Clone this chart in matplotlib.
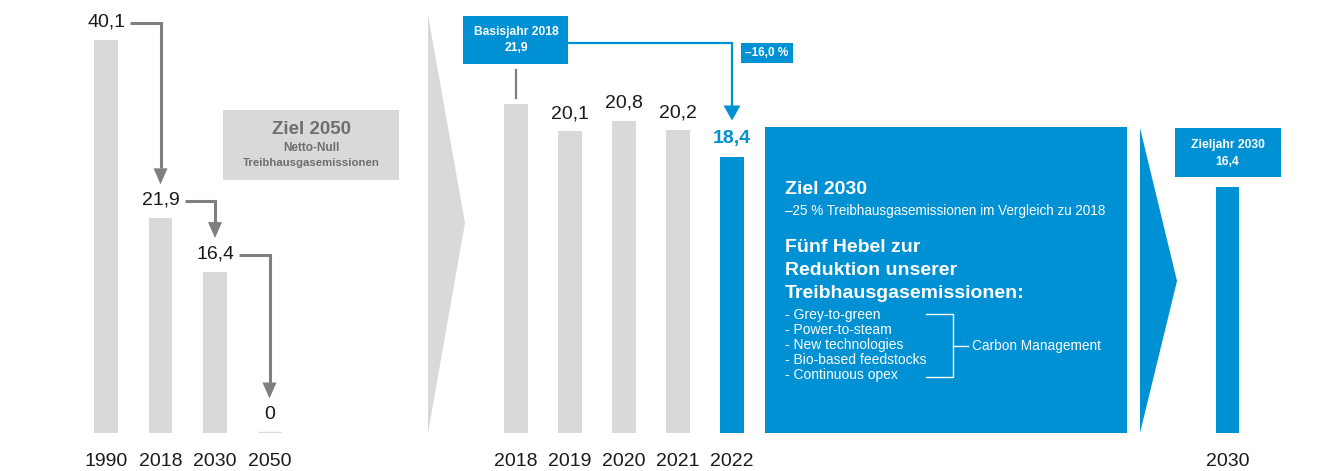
import numpy as np
import matplotlib
matplotlib.use("Agg")
import matplotlib.pyplot as plt
from matplotlib.patches import Rectangle, Polygon

# ---------------- DATA ---------------- #
hist_years = ["1990", "2018", "2030", "2050"]
hist_values = [40.1, 21.9, 16.4, 0.0]

recent_years = ["2018", "2019", "2020", "2021", "2022"]
recent_values = [21.9, 20.1, 20.8, 20.2, 18.4]

target_years = ["2030"]
target_values = [16.4]

change_vs_base = -16.0
levers = ["Grey-to-green", "Power-to-steam", "New technologies",
          "Bio-based feedstocks", "Continuous opex"]

# ---------------- STYLE ---------------- #
BLUE = "#0091d4"
BAR_GREY = "#d9d9d9"
ARROW_GREY = "#7f7f7f"
BOX_TEXT_GREY = "#6e6e6e"
TEXT = "#1a1a1a"
SANS = ["Liberation Sans", "DejaVu Sans"]
plt.rcParams["font.family"] = SANS

W, H = 1325, 471
BASE = 432.5  # baseline of all bars, px from top
NUM_SIZE = 14


def de(v):
    return "0" if v == 0 else f"{v:.1f}".replace(".", ",")


fig = plt.figure(figsize=(W / 100, H / 100), dpi=100)

# background layer in pixel coordinates (y downwards)
bg = fig.add_axes([0, 0, 1, 1])
bg.set_xlim(0, W)
bg.set_ylim(H, 0)
bg.axis("off")


def bar_axes(left_px, width_px, ymax, px_per_unit):
    ax = fig.add_axes([left_px / W, (H - BASE) / H, width_px / W,
                       ymax * px_per_unit / H])
    ax.set_ylim(0, ymax)
    ax.axis("off")
    ax.patch.set_alpha(0)
    return ax


axL = bar_axes(78.75, 218, 44, 9.78)
axL.set_xlim(-0.5, len(hist_values) - 0.5)
axM = bar_axes(489, 270, 28, 15.0)
axM.set_xlim(-0.5, len(recent_values) - 0.5)
axR = bar_axes(1200.5, 54, 28, 15.0)
axR.set_xlim(-0.5, 0.5)


def to_px(ax, x, y):
    d = ax.transData.transform((x, y))
    return bg.transData.inverted().transform(d)


# ---------------- BARS ---------------- #
xL = np.arange(len(hist_values))
lw_zero = [2.4 if v == 0 else 0 for v in hist_values]  # zero shown as a thin stub
axL.bar(xL, hist_values, width=0.44, color=BAR_GREY, edgecolor=BAR_GREY,
        linewidth=lw_zero)
xM = np.arange(len(recent_values))
colors_M = [BAR_GREY] * (len(recent_values) - 1) + [BLUE]
axM.bar(xM, recent_values, width=0.44, color=colors_M, linewidth=0)
axR.bar([0], target_values, width=0.43, color=BLUE, linewidth=0)

# year labels
for ax, xs, labels in [(axL, xL, hist_years), (axM, xM, recent_years),
                       (axR, [0], target_years)]:
    for x, lab in zip(xs, labels):
        px, _ = to_px(ax, x, 0)
        bg.text(px, 462, lab, ha="center", va="center", fontsize=NUM_SIZE, color=TEXT)

# ---------------- LEFT: long-term path ---------------- #
label_pos = []
for x, v in zip(xL, hist_values):
    px, py = to_px(axL, x, v)
    ly = py - 18
    bg.text(px, ly, de(v), ha="center", va="center", fontsize=NUM_SIZE, color=TEXT)
    label_pos.append((px, ly))


def elbow_arrow(x0, y0, x1, y1, color, lw, head_w, head_h):
    bg.plot([x0, x1, x1], [y0, y0, y1 - head_h], color=color, lw=lw,
            solid_joinstyle="miter", solid_capstyle="butt")
    bg.add_patch(Polygon([(x1 - head_w / 2, y1 - head_h), (x1 + head_w / 2, y1 - head_h),
                          (x1, y1)], closed=True, color=color, lw=0))


for (ax0, ay0), (ax1, ay1) in zip(label_pos[:-1], label_pos[1:]):
    elbow_arrow(ax0 + 24, ay0 + 1, ax1, ay1 - 16, ARROW_GREY, 2.2, 14, 16)

# Ziel 2050 box
bg.add_patch(Rectangle((223, 110), 176, 70, color=BAR_GREY, lw=0))
bg.text(311, 130, "Ziel 2050", ha="center", va="center", fontsize=13.5,
        fontweight="bold", color=BOX_TEXT_GREY)
bg.text(311, 148, "Netto-Null", ha="center", va="center", fontsize=8.5,
        fontweight="bold", color=BOX_TEXT_GREY)
bg.text(311, 163, "Treibhausgasemissionen", ha="center", va="center", fontsize=8.2,
        fontweight="bold", color=BOX_TEXT_GREY)

# grey chevron
bg.add_patch(Polygon([(428, 15), (465, 223), (428, 433)], closed=True,
                     color=BAR_GREY, lw=0))

# ---------------- MIDDLE: recent years ---------------- #
bx, btop = to_px(axM, 0, recent_values[0])
bg.add_patch(Rectangle((bx - 53, 16), 105, 48, color=BLUE, lw=0))
bg.text(bx, 32, "Basisjahr 2018", ha="center", va="center", fontsize=8.7,
        fontweight="bold", color="white")
bg.text(bx, 48, de(recent_values[0]), ha="center", va="center", fontsize=8.7,
        fontweight="bold", color="white")
bg.plot([bx, bx], [70, btop - 6], color=ARROW_GREY, lw=1.6)

for x, v in zip(xM[1:-1], recent_values[1:-1]):
    px, py = to_px(axM, x, v)
    bg.text(px, py - 17, de(v), ha="center", va="center", fontsize=NUM_SIZE, color=TEXT)

lx, ly = to_px(axM, xM[-1], recent_values[-1])
bg.text(lx, ly - 18, de(recent_values[-1]), ha="center", va="center",
        fontsize=NUM_SIZE, fontweight="bold", color=BLUE)
elbow_arrow(bx + 52, 43, lx, ly - 36, BLUE, 1.6, 17, 15)

bg.add_patch(Rectangle((lx + 9, 43), 52, 20, color=BLUE, lw=0))
bg.text(lx + 35, 53.5, f"–{abs(change_vs_base):.1f} %".replace(".", ","),
        ha="center", va="center", fontsize=8.5, fontweight="bold", color="white")

# ---------------- TARGET 2030 PANEL ---------------- #
bg.add_patch(Rectangle((765, 127), 362, 306, color=BLUE, lw=0))
tx = 785
bg.text(tx, 189, "Ziel 2030", ha="left", va="center", fontsize=14,
        fontweight="bold", color="white")
bg.text(tx, 211, "–25 % Treibhausgasemissionen im Vergleich zu 2018", ha="left",
        va="center", fontsize=9.75, color="white")
for y, line in zip([248, 270.5, 293],
                   ["Fünf Hebel zur", "Reduktion unserer", "Treibhausgasemissionen:"]):
    bg.text(tx, y, line, ha="left", va="center", fontsize=14, fontweight="bold",
            color="white")
for i, item in enumerate(levers):
    bg.text(tx, 315 + 15 * i, "- " + item, ha="left", va="center", fontsize=10,
            color="white")
bg.plot([926, 953, 953, 926], [314, 314, 377, 377], color="white", lw=1.0)
bg.plot([953, 968], [346, 346], color="white", lw=1.0)
bg.text(972, 346, "Carbon Management", ha="left", va="center", fontsize=9.8,
        color="white")

# blue chevron
bg.add_patch(Polygon([(1140, 128), (1177, 281), (1140, 433)], closed=True,
                     color=BLUE, lw=0))

# target year box
rx, _ = to_px(axR, 0, target_values[0])
bg.add_patch(Rectangle((rx - 53, 128), 106, 49, color=BLUE, lw=0))
bg.text(rx, 145, "Zieljahr 2030", ha="center", va="center", fontsize=8.7,
        fontweight="bold", color="white")
bg.text(rx, 162, de(target_values[0]), ha="center", va="center", fontsize=8.7,
        fontweight="bold", color="white")

fig.savefig("out.png", dpi=100, facecolor="white")
